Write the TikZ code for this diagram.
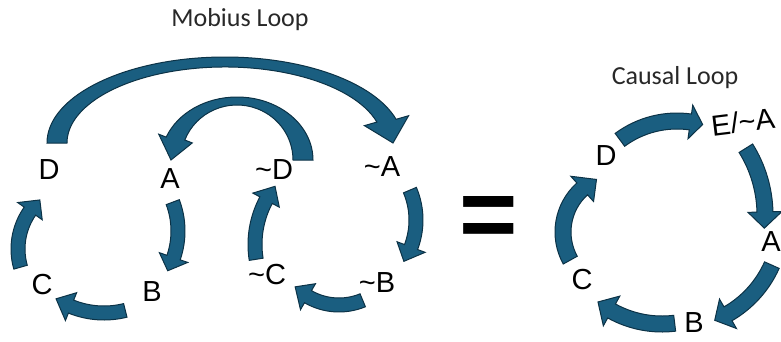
\documentclass[tikz,border=0pt]{standalone}
\usepackage{fontspec}
\setmainfont{Liberation Sans}
\newfontfamily\titlefont{Carlito}
\usepackage{tikz}
\usetikzlibrary{calc}

\definecolor{arrowfill}{RGB}{26,94,128}
\definecolor{arrowline}{RGB}{12,50,70}
\definecolor{titlegray}{RGB}{40,40,40}

% #1 centre, #2/#3 outer radii, #4/#5 inner radii,
% #6 tail angle, #7 head base angle, #8 tip angle, #9 head overhang
\newcommand{\bentarrow}[9]{%
  \filldraw[blockarrow] ($#1+(#6:#2 and #3)$)
    arc[start angle=#6, end angle=#7, x radius=#2, y radius=#3]
    -- ($#1+(#7:{#2+#9} and {#3+#9})$)
    -- ($#1+(#8:{(#2+#4)/2} and {(#3+#5)/2})$)
    -- ($#1+(#7:{#4-#9} and {#5-#9})$)
    -- ($#1+(#7:#4 and #5)$)
    arc[start angle=#7, end angle=#6, x radius=#4, y radius=#5]
    -- cycle;}

\begin{document}
\begin{tikzpicture}[x=1pt, y=1pt,
    blockarrow/.style={fill=arrowfill, draw=arrowline, line width=1pt, line join=miter},
    lbl/.style={font=\fontsize{29}{31}\selectfont, inner sep=0pt},
    title/.style={font=\titlefont\fontsize{26}{28}\selectfont, text=titlegray, inner sep=0pt}]
    \useasboundingbox (0,0) rectangle (781,341);

    \node[title] (mobius) at (240,321) {Mobius Loop};
    \node[title] (causal) at (675,263) {Causal Loop};

    \node[lbl] (D)  at (49,171)  {D};
    \node[lbl] (A)  at (170,162) {A};
    \node[lbl] (B)  at (152,49)  {B};
    \node[lbl] (C)  at (42,56)   {C};
    \node[lbl] (nD) at (274,171) {\textasciitilde D};
    \node[lbl] (nA) at (382,174) {\textasciitilde A};
    \node[lbl] (nB) at (377,58)  {\textasciitilde B};
    \node[lbl] (nC) at (267,66)  {\textasciitilde C};

    \node[inner sep=0pt] (eq) at (488.5,119) {\fontsize{100}{100}\selectfont\bfseries =};

    \node[lbl] (cD) at (606,185) {D};
    \node[lbl, rotate=7] (cE) at (743,219) {E/\textasciitilde A};
    \node[lbl] (cA) at (771,99)  {A};
    \node[lbl] (cB) at (694,18)  {B};
    \node[lbl] (cC) at (582,61)  {C};

    \bentarrow{(225,198)}{178}{86}{158}{76}{180}{16}{0}{13}
    \bentarrow{(237,181)}{76}{63}{56}{55}{0}{158.7}{180}{8}

    \bentarrow{(96,110)}{89}{89}{75}{75}{20.6}{-18.9}{-29}{8}
    \bentarrow{(104,116)}{95}{95}{81}{81}{-76}{-112}{-123}{8}
    \bentarrow{(84,92)}{73}{73}{59}{59}{196}{145}{132}{8}

    \bentarrow{(339.5,121)}{83.5}{83.5}{69.5}{69.5}{23}{-20.7}{-32.7}{8}
    \bentarrow{(339,98)}{69}{69}{55}{55}{-67.5}{-120}{-135}{8}
    \bentarrow{(349.5,96.5)}{101.5}{101.5}{87.5}{87.5}{189}{152}{142}{8}

    \bentarrow{(677,124)}{104}{104}{88}{88}{126.5}{82}{74.5}{9}
    \bentarrow{(639,126)}{134}{134}{118}{118}{32}{1.4}{-6}{9}
    \bentarrow{(675,119)}{114}{114}{98}{98}{-24}{-60}{-68}{9}
    \bentarrow{(662,121)}{112}{112}{96}{96}{-83}{-119}{-128}{9}
    \bentarrow{(621,109)}{66}{66}{50}{50}{209}{132}{115}{9}
\end{tikzpicture}
\end{document}
